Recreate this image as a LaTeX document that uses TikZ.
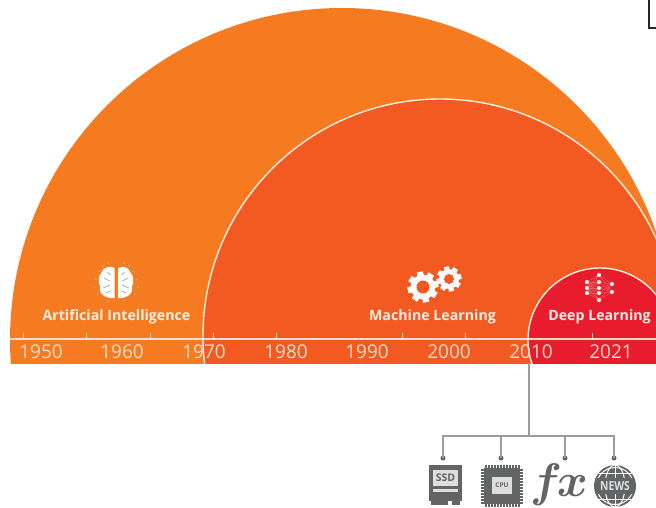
\RequirePackage{fix-cm}
\documentclass[tikz,border=0pt]{standalone}
\usepackage{fontspec}
\setmainfont{Open Sans}
\definecolor{aiorange}{HTML}{F67B20}
\definecolor{mlorange}{HTML}{F25A22}
\definecolor{dlred}{HTML}{E91C2D}
\definecolor{peach}{HTML}{FCDCC6}
\definecolor{labelw}{HTML}{FDEDE2}
\definecolor{wire}{HTML}{9C9C9C}
\definecolor{icon}{HTML}{636466}
\definecolor{iconl}{HTML}{DEDEDF}
\tikzset{
 yearlabel/.style={text=peach,font=\fontsize{19}{21}\selectfont,inner sep=0pt,anchor=center},
 fieldlabel/.style={text=labelw,font=\bfseries\fontsize{14.2}{16}\selectfont,inner sep=0pt,anchor=center},
 ringline/.style={draw=labelw,line width=1.4pt},
 wireline/.style={draw=wire,line width=1.5pt},
 wiredot/.style={circle,fill=icon,inner sep=0pt,minimum size=5pt},
 tick/.style={draw=peach,line width=.8pt},
 netdot/.style={circle,fill=labelw,inner sep=0pt,minimum size=4.2pt},
 netline/.style={draw=labelw!30!dlred,line width=.4pt},
}
\newcommand{\gearicon}[6]{% x y outer hole toothw bg
 \begin{scope}[shift={(#1,#2)}]
  \fill[white] (0,0) circle[radius=#3pt*0.8];
  \foreach \a in {0,45,...,315}{
   \fill[white,rotate=\a+12] (-#5,0) rectangle (#5,#3);
  }
  \fill[#6] (0,0) circle[radius=#4pt];
 \end{scope}}
\begin{document}
\begin{tikzpicture}[x=1pt,y=-1pt]
\useasboundingbox (0,0) rectangle (656,507);
\fill[white] (0,0) rectangle (656,507);
\begin{scope}
 \clip (0,0) rectangle (656,363);
 \fill[aiorange] (342,340) circle[radius=332pt];
 \fill[mlorange] (440,336) circle[radius=237pt];
 \draw[ringline] (440,336) circle[radius=237pt];
 \fill[dlred] (600,340) circle[radius=72pt];
 \draw[ringline] (600,340) circle[radius=72pt];
\end{scope}
% axis
\coordinate (axisL) at (10,339);
\coordinate (axisR) at (656,339);
\draw[tick,line width=1.1pt] (axisL) -- (axisR);
\foreach \x in {23,86,150,213,276,402,465,592}{
 \draw[tick] (\x,333) -- (\x,339);
}
\node[yearlabel] (y1950) at (41,351.5) {1950};
\node[yearlabel] (y1960) at (122,351.5) {1960};
\node[yearlabel] (y1970) at (204,351.5) {1970};
\node[yearlabel] (y1980) at (286,351.5) {1980};
\node[yearlabel] (y1990) at (367,351.5) {1990};
\node[yearlabel] (y2000) at (449,351.5) {2000};
\node[yearlabel] (y2010) at (531,351.5) {2010};
\node[yearlabel] (y2021) at (611,351.5) {2021};
\node[fieldlabel] (ai) at (116.5,317) {Artificial Intelligence};
\node[fieldlabel] (ml) at (432.5,317) {Machine Learning};
\node[fieldlabel] (dl) at (599.5,317) {Deep Learning};
% brain
\foreach \p/\q in {100/271,96/279,95/287,98/294,103/266,108/263,124/263,129/266,133/271,137/279,138/287,135/294,108/301,124/301}{
 \fill[peach!55!icon] (\p,\q) circle[radius=1.2pt];
}
\fill[white] (114.5,268) .. controls (108,265) and (103,268) .. (102,272)
  .. controls (98,275) and (98,283) .. (100,286)
  .. controls (98,292) and (104,299) .. (114.5,298) -- cycle;
\fill[white] (118,268) .. controls (124,265) and (129,268) .. (130,272)
  .. controls (134,275) and (134,283) .. (132,286)
  .. controls (134,292) and (128,299) .. (118,298) -- cycle;
\draw[icon!55!white,line width=.7pt] (104,278) -- (110,281) (103,288) -- (110,285) (106,293) -- (111,291) (107,272)--(111,275)
  (128,278) -- (122,281) (129,288) -- (122,285) (126,293) -- (121,291) (125,272)--(121,275);
% gears
\gearicon{423}{287}{15.5}{6.5}{3.2}{mlorange}
\gearicon{449}{279}{12.5}{5}{2.6}{mlorange}
% network
\foreach \a in {282,288,293}{\foreach \b in {275,282,288,293,300}{\draw[netline] (587,\a) -- (599,\b);}}
\foreach \a in {284,292}{\foreach \b in {275,282,288,293,300}{\draw[netline] (612,\a) -- (599,\b);}}
\foreach \x/\y [count=\i] in {587/282,587/288,587/293,599/275,599/282,599/288,599/293,599/300,612/284,612/292}{
 \node[netdot] (n\i) at (\x,\y) {};
}
% connector tree
\coordinate (stem) at (529,363);
\coordinate (hub) at (529,436);
\node[wiredot] (d1) at (443,458) {};
\node[wiredot] (d2) at (501,458) {};
\node[wiredot] (d3) at (565,458) {};
\node[wiredot] (d4) at (614,458) {};
\draw[wireline] (stem) -- (hub);
\draw[wireline] (d1.center) -- (d1.center |- hub) -- (d4.center |- hub) -- (d4.center);
\draw[wireline] (d2.center) -- (d2.center |- hub);
\draw[wireline] (d3.center) -- (d3.center |- hub);
% SSD icon
\fill[icon] (429,465) rectangle (462,501);
\fill[iconl] (433,470) rectangle (458,486);
\node[inner sep=0pt,text=icon,font=\bfseries\fontsize{10.5}{11}\selectfont] (ssd) at (445.5,478) {SSD};
\fill[iconl] (433,489) rectangle (458,492);
\fill[icon] (431,501) rectangle (448,505);
\fill[icon] (452,501) rectangle (460,505);
% CPU icon
\fill[icon] (484,468) rectangle (520,504);
\foreach \t in {0,...,11}{
 \fill[icon] (485+\t*3,465) rectangle (486.6+\t*3,507);
 \fill[icon] (481,469+\t*3) rectangle (523,470.6+\t*3);
}
\fill[iconl] (492,477) rectangle (512,494);
\node[inner sep=0pt,text=icon,font=\bfseries\fontsize{6.5}{7}\selectfont] (cpu) at (502,485.5) {CPU};
% fx icon
\node[inner sep=0pt,text=icon,anchor=base,font=\fontsize{47}{47}\selectfont\boldmath] (fx) at (559,496) {$f\kern-5pt x$};
% news icon
\fill[icon] (615,486) circle[radius=21pt];
\begin{scope}
 \clip (615,486) circle[radius=21pt];
 \draw[white,line width=1pt] (615,465) -- (615,507);
 \draw[white,line width=1pt] (615,486) ellipse[x radius=10pt,y radius=21pt];
 \draw[white,line width=1pt] (594,473) -- (636,473) (594,499) -- (636,499);
\end{scope}
\draw[white,line width=1pt] (615,486) circle[radius=18.5pt];
\fill[icon] (596,478) rectangle (634,494);
\node[inner sep=0pt,text=iconl,xscale=.82,font=\bfseries\fontsize{12.5}{13}\selectfont] (news) at (615,486) {NEWS};
% corner box
\draw[black!85,line width=1.6pt] (660,28) -- (649,28) -- (649,-3);
\end{tikzpicture}
\end{document}
